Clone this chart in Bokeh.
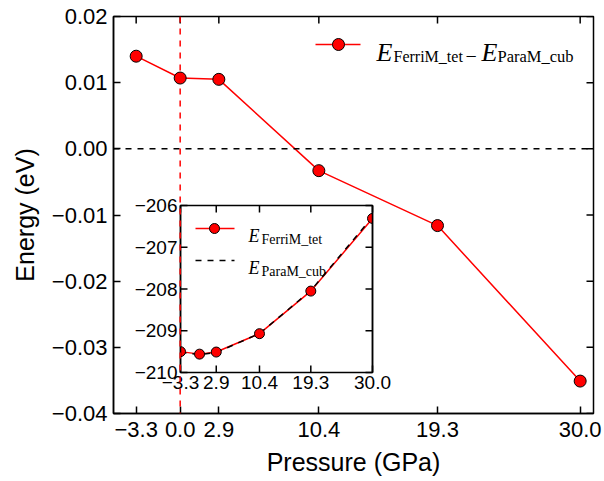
import math
from bokeh.plotting import figure
from bokeh.models import Range1d, FixedTicker, Span, Label, CustomJSTickFormatter
from bokeh.embed import file_html
from bokeh.resources import INLINE
from bokeh.core.properties import value

# ---------------- data ----------------
pressure = [-3.3, 0.0, 2.9, 10.4, 19.3, 30.0]
energy_diff = [0.0140, 0.0107, 0.0105, -0.0033, -0.0116, -0.0351]
e_ferri_tet = [-209.50, -209.56, -209.51, -209.07, -208.05, -206.31]
e_para_cub = [-209.514, -209.571, -209.521, -209.067, -208.038, -206.275]
x_ticks = [-3.3, 0.0, 2.9, 10.4, 19.3, 30.0]
y_ticks = [-0.04, -0.03, -0.02, -0.01, 0.00, 0.01, 0.02]
inset_x_ticks = [-3.3, 2.9, 10.4, 19.3, 30.0]
inset_y_ticks = [-210, -209, -208, -207, -206]
inset_x_labels = ["\u22123.3", "2.9", "10.4", "19.3", "30.0"]
inset_y_labels = ["\u2212210", "\u2212209", "\u2212208", "\u2212207", "\u2212206"]

# ---------------- layout ----------------
W, H = 604, 481
FL, FR, FT, FB = 113, 593, 16, 413          # main frame in canvas px
XR0, XR1 = -5.0, 31.0
YR0, YR1 = -0.04, 0.02
IL, IR, IT, IB = 180, 372, 205, 372          # inset frame in canvas px
IX0, IX1 = -3.3, 30.0
IY0, IY1 = -210.0, -206.0

RED = "#ff0000"
SANS = "Liberation Sans"
SERIF = "Liberation Serif"
TL = 7  # tick length px


def dx(px):
    return XR0 + (px - FL) / (FR - FL) * (XR1 - XR0)


def dy(py):
    return YR1 - (py - FT) / (FB - FT) * (YR1 - YR0)


p = figure(width=W, height=H, x_range=Range1d(XR0, XR1), y_range=Range1d(YR0, YR1),
           output_backend="svg", toolbar_location=None,
           min_border_left=FL, min_border_right=W - FR, min_border_top=FT, min_border_bottom=H - FB,
           background_fill_color="white", border_fill_color="white")
p.grid.visible = False
p.outline_line_color = "black"
p.outline_line_width = 1.5

xfmt = CustomJSTickFormatter(code="return tick.toFixed(1).replace('-', '\u2212');")
yfmt = CustomJSTickFormatter(code="var s = tick.toFixed(2); if (s == '-0.00') s = '0.00'; return s.replace('-', '\u2212');")

xa = p.xaxis[0]
ya = p.yaxis[0]
xa.ticker = FixedTicker(ticks=x_ticks)
ya.ticker = FixedTicker(ticks=y_ticks)
xa.formatter = xfmt
ya.formatter = yfmt
xa.axis_label = "Pressure (GPa)"
ya.axis_label = "Energy (eV)"
xa.major_label_standoff = 8
ya.major_label_standoff = 6
xa.axis_label_standoff = 8
ya.axis_label_standoff = 10

for ax in [xa, ya]:
    ax.major_tick_in = TL
    ax.major_tick_out = 0
    ax.minor_tick_in = 0
    ax.minor_tick_out = 0
    ax.axis_line_width = 1.5
    ax.axis_line_color = "black"
    ax.major_tick_line_width = 1.5
    ax.major_tick_line_color = "black"
    ax.major_label_text_color = "black"
    ax.major_label_text_font = SANS
    ax.major_label_text_font_size = "22px"
    ax.axis_label_text_font = SANS
    ax.axis_label_text_font_size = "25px"
    ax.axis_label_text_font_style = "normal"
    ax.axis_label_text_color = "black"

# mirrored ticks on top and right edges
ppx = (XR1 - XR0) / (FR - FL)
ppy = (YR1 - YR0) / (FB - FT)
p.segment(x0=x_ticks, y0=[YR1] * len(x_ticks), x1=x_ticks, y1=[YR1 - TL * ppy] * len(x_ticks),
          line_color="black", line_width=1.5)
p.segment(x0=[XR1] * len(y_ticks), y0=y_ticks, x1=[XR1 - TL * ppx] * len(y_ticks), y1=y_ticks,
          line_color="black", line_width=1.5)

# reference lines
p.add_layout(Span(location=0.0, dimension="width", line_color="black", line_width=1.5, line_dash="6 6"))
p.add_layout(Span(location=0.0, dimension="height", line_color=RED, line_width=1.5, line_dash="6 6"))

# main series
p.line(pressure, energy_diff, line_color=RED, line_width=1.5)
p.scatter(pressure, energy_diff, size=12, fill_color=RED, line_color="black", line_width=1)

# main legend (manual)
p.line([dx(315), dx(360)], [dy(44), dy(44)], line_color=RED, line_width=1.5)
p.scatter([dx(338)], [dy(44)], size=12, fill_color=RED, line_color="black", line_width=1)


def lab(px, py, text, size, style="normal", font=SERIF):
    p.add_layout(Label(x=dx(px), y=dy(py), text=text, text_font=font, text_font_size=size,
                       text_font_style=style, text_color="black", text_align="left",
                       text_baseline="alphabetic"))


lab(376, 52, "E", "26px", "italic")
lab(393, 56, "FerriM_tet", "16px")
lab(465, 55, "\u2212", "20px")
lab(481, 52, "E", "26px", "italic")
lab(497, 56, "ParaM_cub", "16.5px")

# ---------------- inset ----------------
sx = (IR - IL) / (IX1 - IX0)
sy = (IB - IT) / (IY1 - IY0)
p.extra_x_ranges = {"ix": Range1d(IX0 - (IL - FL) / sx, IX1 + (FR - IR) / sx)}
p.extra_y_ranges = {"iy": Range1d(IY0 - (FB - IB) / sy, IY1 + (IT - FT) / sy)}
kw = dict(x_range_name="ix", y_range_name="iy")

p.quad(left=[IX0], right=[IX1], bottom=[IY0], top=[IY1], fill_color="white",
       line_color="black", line_width=1.5, **kw)

n = len(inset_x_ticks)
m = len(inset_y_ticks)
p.segment(x0=inset_x_ticks, y0=[IY0] * n, x1=inset_x_ticks, y1=[IY0 + TL / sy] * n,
          line_color="black", line_width=1.5, **kw)
p.segment(x0=inset_x_ticks, y0=[IY1] * n, x1=inset_x_ticks, y1=[IY1 - TL / sy] * n,
          line_color="black", line_width=1.5, **kw)
p.segment(x0=[IX0] * m, y0=inset_y_ticks, x1=[IX0 + TL / sx] * m, y1=inset_y_ticks,
          line_color="black", line_width=1.5, **kw)
p.segment(x0=[IX1] * m, y0=inset_y_ticks, x1=[IX1 - TL / sx] * m, y1=inset_y_ticks,
          line_color="black", line_width=1.5, **kw)

p.text(x=inset_x_ticks, y=[IY0 - 3 / sy] * n, text=inset_x_labels, text_align="center",
       text_baseline="top", text_font=value(SANS), text_font_size="19px", text_color="black", **kw)
p.text(x=[IX0 - 3 / sx] * m, y=inset_y_ticks, text=inset_y_labels, text_align="right",
       text_baseline="middle", text_font=value(SANS), text_font_size="19px", text_color="black", **kw)

p.line(pressure, e_ferri_tet, line_color=RED, line_width=1.5, **kw)
p.line(pressure, e_para_cub, line_color="black", line_width=1.5, line_dash="6 6", **kw)

# markers: points lying on the inset frame edges are clipped to half discs
inner_x = [x for x in pressure if IX0 < x < IX1]
inner_y = [y for x, y in zip(pressure, e_ferri_tet) if IX0 < x < IX1]
p.scatter(inner_x, inner_y, size=10, fill_color=RED, line_color="black", line_width=1, **kw)
left_x = [x for x in pressure if x <= IX0]
left_y = [y for x, y in zip(pressure, e_ferri_tet) if x <= IX0]
right_x = [x for x in pressure if x >= IX1]
right_y = [y for x, y in zip(pressure, e_ferri_tet) if x >= IX1]
p.wedge(x=left_x, y=left_y, radius=5, radius_units="screen", start_angle=-math.pi / 2,
        end_angle=math.pi / 2, fill_color=RED, line_color="black", line_width=1, **kw)
p.wedge(x=right_x, y=right_y, radius=5, radius_units="screen", start_angle=math.pi / 2,
        end_angle=3 * math.pi / 2, fill_color=RED, line_color="black", line_width=1, **kw)
# redraw inset frame edges over the half discs
p.segment(x0=[IX0, IX1], y0=[IY0, IY0], x1=[IX0, IX1], y1=[IY1, IY1],
          line_color="black", line_width=1.5, **kw)

# inset legend
p.line([dx(195), dx(234)], [dy(228), dy(228)], line_color=RED, line_width=1.5)
p.scatter([dx(214)], [dy(228)], size=10, fill_color=RED, line_color="black", line_width=1)
p.line([dx(195), dx(234)], [dy(260), dy(260)], line_color="black", line_width=1.5, line_dash="6 6")
lab(248, 235, "E", "18px", "italic")
lab(261, 239, "FerriM_tet", "14px")
lab(248, 267, "E", "18px", "italic")
lab(261, 271, "ParaM_cub", "14px")

open("out.html", "w").write(file_html(p, INLINE))
